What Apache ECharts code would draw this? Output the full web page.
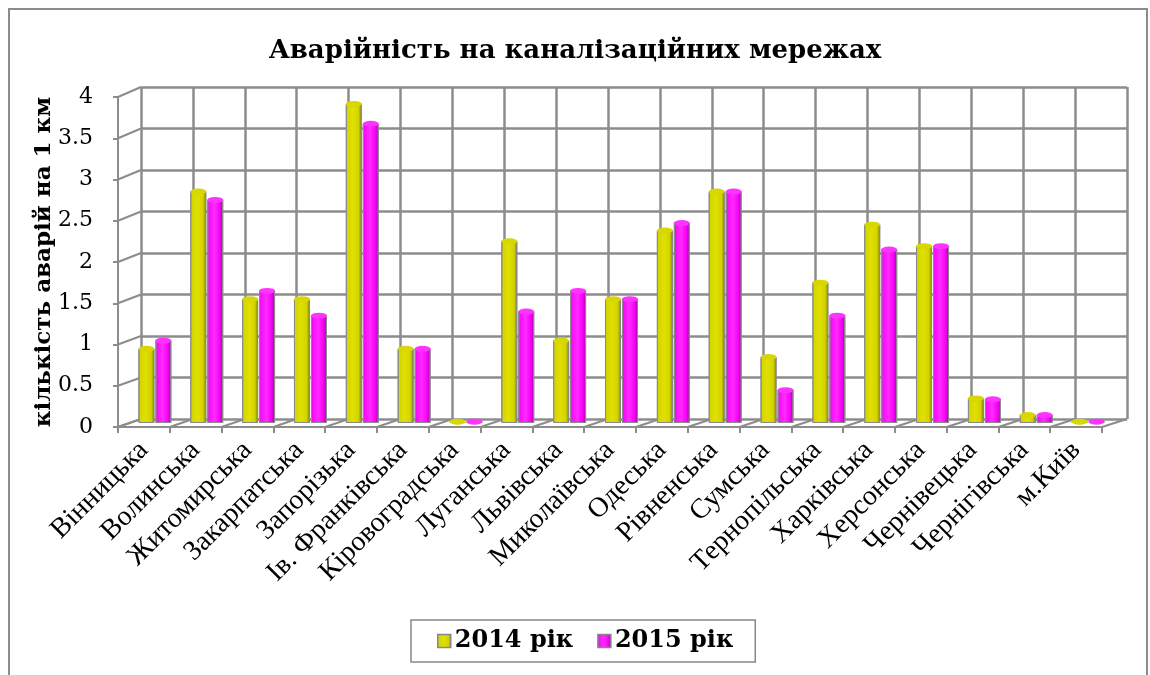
<!DOCTYPE html>
<html>
<head>
<meta charset="utf-8">
<title>Аварійність на каналізаційних мережах</title>
<script src="https://cdn.jsdelivr.net/npm/echarts@6/dist/echarts.min.js"></script>
<style>
  html, body { margin: 0; padding: 0; background: #fff; }
  #chart { width: 1150px; height: 675px; }
</style>
</head>
<body>
<div id="chart"></div>
<script>
// області
const regions = ['Вінницька', 'Волинська', 'Житомирська', 'Закарпатська', 'Запорізька',
  'Ів. Франківська', 'Кіровоградська', 'Луганська', 'Львівська', 'Миколаївська',
  'Одеська', 'Рівненська', 'Сумська', 'Тернопільська', 'Харківська',
  'Херсонська', 'Чернівецька', 'Чернігівська', 'м.Київ']
// кількість аварій на 1 км
const values2014 = [0.9, 2.8, 1.5, 1.5, 3.86, 0.9, 0.02, 2.2, 1.0, 1.5,
  2.33, 2.8, 0.8, 1.7, 2.4, 2.14, 0.3, 0.1, 0.02]
const values2015 = [1.0, 2.7, 1.6, 1.3, 3.62, 0.9, 0.02, 1.35, 1.6, 1.5,
  2.42, 2.8, 0.4, 1.3, 2.1, 2.14, 0.29, 0.1, 0.02]
const seriesNames = ['2014 рік', '2015 рік']
const yTicks = [0, 0.5, 1, 1.5, 2, 2.5, 3, 3.5, 4]

const gridColor = '#8c8c8c'
const serif = 'Liberation Serif'
const boldSerif = 'DejaVu Serif'

const chart = echarts.init(document.getElementById('chart'))

// циліндр: градієнт зліва направо
function cylinder (base, light, dark) {
  return new echarts.graphic.LinearGradient(0, 0, 1, 0, [
    { offset: 0, color: base },
    { offset: 0.45, color: light },
    { offset: 0.8, color: base },
    { offset: 1, color: dark }
  ])
}

const barStyles = [
  { color: cylinder('#d2d200', '#e0e000', '#7d7d00'), top: '#d8d800' },
  { color: cylinder('#f500f5', '#ff2bff', '#990099'), top: '#ff33ff' }
]

// сітки: 0 - стовпці (середина), 1 - задня стінка, 2 - передні осі, 3 - підписи осі Y
const grids = [
  { left: 129, right: 36, top: 92, bottom: 252 },
  { left: 141, right: 23, top: 87, bottom: 256 },
  { left: 118, right: 48, top: 97, bottom: 248 },
  { left: 101, right: 48, top: 97, bottom: 248 }
]

const option = {
  backgroundColor: '#fff',
  animation: false,
  title: {
    text: 'Аварійність на каналізаційних мережах',
    left: 'center',
    top: 33,
    textStyle: { fontFamily: boldSerif, fontWeight: 'bold', fontSize: 26, color: '#000' }
  },
  legend: {
    data: seriesNames,
    left: 411,
    top: 620,
    padding: [9, 22, 9, 26],
    itemGap: 24,
    itemWidth: 13,
    itemHeight: 13,
    icon: 'rect',
    borderColor: '#888',
    borderWidth: 1.5,
    itemStyle: { borderColor: '#888', borderWidth: 1.5 },
    textStyle: { fontFamily: boldSerif, fontWeight: 'bold', fontSize: 24, color: '#000', padding: [0, 0, 0, -1] }
  },
  grid: grids,
  xAxis: [
    { gridIndex: 0, type: 'category', data: regions, show: false },
    {
      gridIndex: 1, type: 'category', data: regions,
      axisLine: { show: false }, axisTick: { show: false, interval: 0 }, axisLabel: { show: false, interval: 0 },
      splitLine: { show: true, interval: 0, lineStyle: { color: gridColor, width: 2.5 } }
    },
    {
      gridIndex: 2, type: 'category', data: regions,
      axisLine: { show: true, lineStyle: { color: gridColor, width: 2 } },
      axisTick: { show: true, interval: 0, length: 6, lineStyle: { color: gridColor, width: 2 } },
      axisLabel: { rotate: 45, margin: 19, fontFamily: serif, fontSize: 28, color: '#000', interval: 0 },
      splitLine: { show: false }
    },
    { gridIndex: 3, type: 'category', data: regions, show: false }
  ],
  yAxis: [
    { gridIndex: 0, type: 'value', min: 0, max: 4, interval: 0.5, show: false },
    {
      gridIndex: 1, type: 'value', min: 0, max: 4, interval: 0.5,
      axisLine: { show: false }, axisTick: { show: false }, axisLabel: { show: false },
      splitLine: { show: true, lineStyle: { color: gridColor, width: 2.5 } }
    },
    {
      gridIndex: 2, type: 'value', min: 0, max: 4, interval: 0.5,
      name: 'кількість аварій на 1 км',
      nameLocation: 'middle',
      nameGap: 62,
      nameMoveOverlap: false,
      nameTextStyle: { fontFamily: boldSerif, fontWeight: 'bold', fontSize: 23, color: '#000' },
      axisLine: { show: true, lineStyle: { color: gridColor, width: 2 } },
      axisTick: { show: true, length: 5, lineStyle: { color: gridColor, width: 2 } },
      axisLabel: { show: false },
      splitLine: { show: false }
    },
    {
      gridIndex: 3, type: 'value', min: 0, max: 4, interval: 0.5,
      axisLine: { show: false }, axisTick: { show: false },
      axisLabel: { fontFamily: boldSerif, fontSize: 22, color: '#000', margin: 8 },
      splitLine: { show: false }
    }
  ],
  series: [
    ...[values2014, values2015].map((vals, i) => ({
      name: seriesNames[i],
      type: 'bar',
      xAxisIndex: 0,
      yAxisIndex: 0,
      data: vals,
      barWidth: 16,
      barGap: '6%',
      itemStyle: { color: barStyles[i].color, borderColor: '#8a8a8a', borderWidth: 1 },
      z: 3
    })),
    ...[values2014, values2015].map((vals, i) => ({
      name: seriesNames[i] + ' верх',
      type: 'pictorialBar',
      xAxisIndex: 0,
      yAxisIndex: 0,
      data: vals,
      symbol: 'circle',
      symbolSize: [16, 6],
      symbolPosition: 'end',
      symbolOffset: [0, '-50%'],
      barWidth: 16,
      barGap: '6%',
      itemStyle: { color: barStyles[i].top, borderColor: '#8a8a8a', borderWidth: 1 },
      z: 4
    }))
  ]
}

chart.setOption(option)

// перспективні лінії: ліва стінка та підлога
function drawPerspective () {
  const lines = []
  const seg = (a, b) => lines.push({
    type: 'line', silent: true, z: 1,
    shape: { x1: a[0], y1: a[1], x2: b[0], y2: b[1] },
    style: { stroke: gridColor, lineWidth: 2 }
  })
  const front = v => chart.convertToPixel({ xAxisIndex: 2, yAxisIndex: 2 }, v)
  const back = v => chart.convertToPixel({ xAxisIndex: 1, yAxisIndex: 1 }, v)
  const fw = front([1, 0])[0] - front([0, 0])[0]
  const bw = back([1, 0])[0] - back([0, 0])[0]
  yTicks.forEach(v => {
    const f = front([0, v])
    const b = back([0, v])
    seg([f[0] - fw / 2, f[1]], [b[0] - bw / 2, b[1]])
  })
  const f0 = front([0, 0])
  const b0 = back([0, 0])
  for (let i = 0; i <= regions.length; i++) {
    seg([f0[0] - fw / 2 + i * fw, f0[1]], [b0[0] - bw / 2 + i * bw, b0[1]])
  }
  // рамка діаграми
  lines.push({
    type: 'rect', silent: true, z: 0,
    shape: { x: 9, y: 9, width: 1138, height: 700 },
    style: { fill: 'none', stroke: '#8c8c8c', lineWidth: 2 }
  })
  chart.setOption({ graphic: lines })
}
drawPerspective()
</script>
</body>
</html>
